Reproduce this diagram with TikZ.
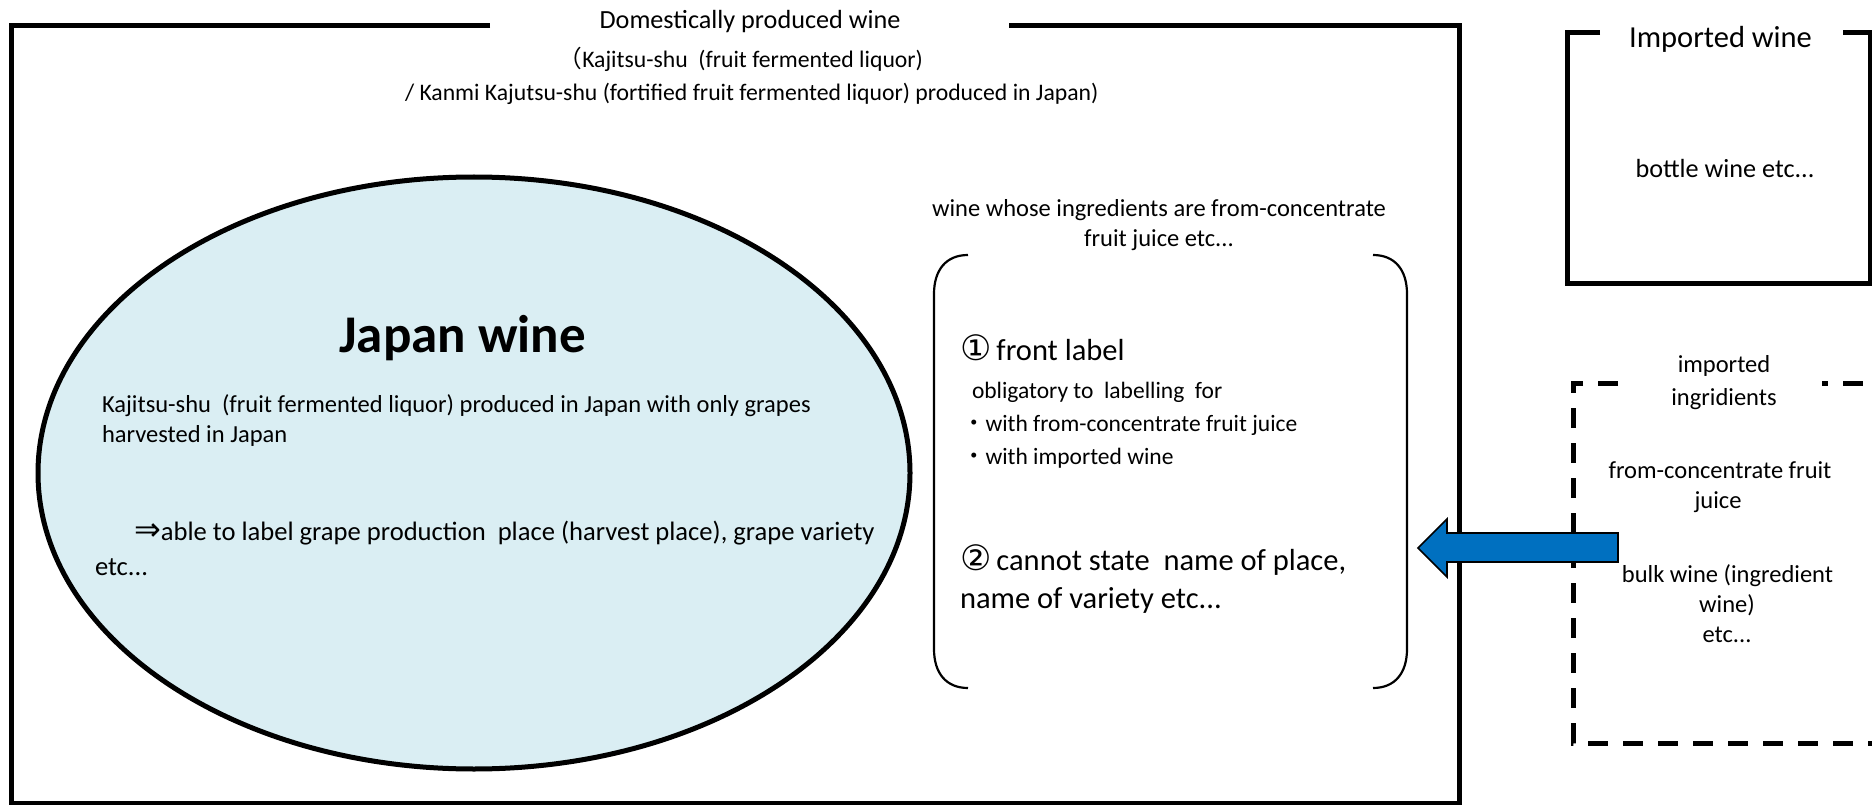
\documentclass[tikz,border=0pt]{standalone}
\usepackage{fontspec}
\setmainfont{Carlito}
\newfontfamily\symf{DejaVu Sans}
\newfontfamily\cjkf{Noto Sans CJK JP}
\usetikzlibrary{shapes.geometric}
\definecolor{ellfill}{HTML}{DAEEF3}
\definecolor{arrowblue}{HTML}{0070C0}
\begin{document}
\begin{tikzpicture}[x=1pt,y=-1pt,
  txt/.style={inner sep=0pt, outer sep=0pt, text=black},
  fA/.style={font=\fontsize{24.5}{30}\selectfont},
  fB/.style={font=\fontsize{23.5}{28}\selectfont},
  fC/.style={font=\fontsize{30.5}{36}\selectfont},
  fD/.style={font=\fontsize{26.2}{32}\selectfont},
  fE/.style={font=\fontsize{23.7}{28}\selectfont},
  fF/.style={font=\fontsize{26.6}{32}\selectfont},
  boxline/.style={line width=5pt, line cap=butt},
  dashline/.style={line width=5pt, dash pattern=on 20pt off 15pt},
  brk/.style={line width=2.2pt}]
\clip (0,0) rectangle (1872,805);
\fill[white] (0,0) rectangle (1872,805);

% Domestically produced wine frame
\draw[boxline] (490,26) -- (11,26) -- (11,803) -- (1459,803) -- (1459,26) -- (1009,26);
\node[txt, fD, anchor=base] (dtitle) at (750,29) {Domestically produced wine};
\node[txt, fE, anchor=base east] (dsub1) at (923,68) {{\cjkf （}Kajitsu-shu\ \ (fruit fermented liquor)};
\node[txt, fE, anchor=base west] (dsub2) at (405,101) {/ Kanmi Kajutsu-shu (fortified fruit fermented liquor) produced in Japan)};

% Japan wine ellipse
\node[ellipse, draw, line width=5pt, fill=ellfill, minimum width=872pt, minimum height=592pt, inner sep=0pt] (jw) at (474,473) {};
\node[txt, anchor=base, font=\bfseries\fontsize{53}{60}\selectfont] (jwt) at (462.5,352) {Japan wine};
\node[txt, fA, anchor=base west] (jw1) at (102,412) {Kajitsu-shu\ \ (fruit fermented liquor) produced in Japan with only grapes};
\node[txt, fA, anchor=base west] (jw2) at (102,442) {harvested in Japan};
\node[txt, fF, anchor=base west] (jw3) at (134,540) {{\symf\fontsize{32}{36}\selectfont ⇒}able to label grape production\ \ place (harvest place), grape variety};
\node[txt, fF, anchor=base west] (jw4) at (95,575) {etc...};

% bracket group
\node[txt, fA, anchor=base] (bt1) at (1159,217) {wine whose ingredients are from-concentrate};
\node[txt, fA, anchor=base] (bt2) at (1159,247) {fruit juice etc...};
\draw[brk] (968,255) .. controls (946,255) and (934,270) .. (934,294) -- (934,649) .. controls (934,673) and (946,688) .. (968,688);
\draw[brk] (1373,255) .. controls (1395,255) and (1407,270) .. (1407,294) -- (1407,649) .. controls (1407,673) and (1395,688) .. (1373,688);
\node[txt, fC, anchor=base west] (b1) at (960,360) {{\symf\fontsize{35}{40}\selectfont ①}\,front label};
\node[txt, fB, anchor=base west] (b2) at (972,398) {obligatory to\ \ labelling\ \ for};
\node[txt, fB, anchor=base west] (b3) at (962,431) {{\cjkf ・}with from-concentrate fruit juice};
\node[txt, fB, anchor=base west] (b4) at (962,464) {{\cjkf ・}with imported wine};
\node[txt, fC, anchor=base west] (b5) at (960,570) {{\symf\fontsize{35}{40}\selectfont ②}\,cannot state\ \ name of place,};
\node[txt, fC, anchor=base west] (b6) at (960,608) {name of variety etc...};

% Imported wine box
\draw[boxline] (1600,33) -- (1567,33) -- (1567,283) -- (1870,283) -- (1870,33) -- (1843,33);
\node[txt, fC, anchor=base] (iw) at (1720.5,48) {Imported wine};
\node[txt, fD, anchor=base] (iw2) at (1725,178) {bottle wine etc...};

% Imported ingredients dashed box
\draw[dashline] (1618,383) -- (1573,383) -- (1573,743) -- (1895,743);
\draw[dashline, dash phase=14pt] (1822,383) -- (1895,383);
\node[txt, fA, anchor=base] (ii1) at (1724,372) {imported};
\node[txt, fA, anchor=base] (ii2) at (1724,405) {ingridients};
\node[txt, fA, anchor=base] (ii3) at (1720,478) {from-concentrate fruit};
\node[txt, fA, anchor=base] (ii4) at (1718,508) {juice};
\node[txt, fA, anchor=base] (ii5) at (1727.5,582) {bulk wine (ingredient};
\node[txt, fA, anchor=base] (ii6) at (1727,612) {wine)};
\node[txt, fA, anchor=base] (ii7) at (1727,642) {etc...};

% block arrow
\coordinate (atip) at (1418,548);
\coordinate (atail) at (1618,548);
\draw[line width=1.6pt, fill=arrowblue, line join=miter]
  (atip) -- (1447,519) -- (1447,533) -- ([yshift=15pt]atail) -- ([yshift=-14pt]atail) -- (1447,562) -- (1447,577) -- cycle;
\end{tikzpicture}
\end{document}
